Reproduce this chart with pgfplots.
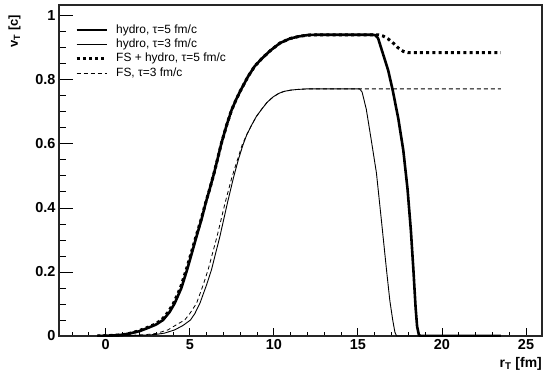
\documentclass[border=0pt]{standalone}
\usepackage{fontspec}
\setmainfont{Liberation Sans}
\usepackage{pgfplots}
\pgfplotsset{compat=1.18}
\begin{document}
\begin{tikzpicture}
\begin{axis}[
  name=ax,
  scale only axis,
  width=483bp, height=331bp,
  xmin=-2.78, xmax=25.95,
  ymin=0, ymax=1.034,
  xtick={0,5,10,15,20,25},
  ytick={0,0.2,0.4,0.6,0.8,1},
  minor xtick={-2,-1,...,25},
  minor ytick={0.05,0.1,0.15,0.25,0.3,0.35,0.45,0.5,0.55,0.65,0.7,0.75,0.85,0.9,0.95},
  tick pos=left,
  tick align=inside,
  xtick style={/pgfplots/major tick length=8bp,/pgfplots/minor tick length=4bp,line width=0.9bp,black},
  ytick style={/pgfplots/major tick length=14bp,/pgfplots/minor tick length=7bp,line width=0.9bp,black},
  axis line style={line width=1.3bp,black!85},
  /pgf/number format/assume math mode=true,
  ticklabel style={font=\bfseries\fontsize{14.5}{16}\selectfont},
  xlabel={r\textsubscript{T} [fm]},
  ylabel={v\textsubscript{T} [c]},
  xlabel style={at={(axis description cs:1,-0.0937)}, anchor=base east, font=\bfseries\fontsize{14}{16}\selectfont, inner sep=0pt},
  ylabel style={at={(axis description cs:-0.0849,0.970)}, anchor=base east, font=\bfseries\fontsize{13}{15}\selectfont, inner sep=0pt},
  legend cell align=left,
  legend style={draw=none, fill=none, at={(axis description cs:0,1)}, anchor=north west, xshift=16bp, yshift=-19bp,
    font=\fontsize{12}{14}\selectfont, inner sep=0pt, row sep=2.4bp, column sep=8bp,
    nodes={inner sep=0pt, text height=9bp, text depth=3bp}},
  legend image code/.code={\draw[#1] (0bp,0bp) -- (30bp,0bp);},
]
% hydro, tau=5
\addplot[black, line width=2.6bp, line join=round] coordinates {
(-0.5,0) (0,0.001) (0.5,0.002) (1.0,0.004) (1.43,0.008) (2.0,0.015) (2.5,0.025) (3.0,0.036)
(3.41,0.05) (3.8,0.075) (4.1,0.102) (4.5,0.150) (4.84,0.207) (5.1,0.255) (5.4,0.311) (5.7,0.365)
(5.95,0.416) (6.2,0.462) (6.45,0.510) (6.89,0.604) (7.2,0.660) (7.48,0.705) (7.75,0.738) (8.0,0.765)
(8.47,0.811) (8.85,0.842) (9.27,0.866) (9.8,0.892) (10.36,0.915) (10.95,0.929) (11.5,0.936)
(12.0,0.940) (12.5,0.941) (15.9,0.941) (16.05,0.939) (16.2,0.93) (16.5,0.88) (16.8,0.83)
(17.06,0.77) (17.4,0.68) (17.7,0.58) (17.95,0.46) (18.15,0.33) (18.3,0.207) (18.43,0.09)
(18.52,0.03) (18.62,0.005) (18.7,0) (23.5,0)
};
\addlegendentry{hydro, τ=5 fm/c}
% hydro, tau=3
\addplot[black, line width=0.9bp, line join=round] coordinates {
(-0.5,0) (0.5,0.0003) (1.5,0.001) (2.5,0.003) (3.0,0.005) (3.5,0.009) (4.1,0.019) (4.6,0.033)
(5.04,0.05) (5.3,0.07) (5.6,0.102) (6.0,0.160) (6.29,0.207) (6.79,0.311) (7.24,0.416) (7.6,0.495)
(7.9,0.553) (8.17,0.598) (8.4,0.630) (8.67,0.658) (8.95,0.685) (9.27,0.708) (9.6,0.730)
(9.96,0.747) (10.3,0.758) (10.6,0.764) (11.0,0.768) (11.35,0.770) (12.0,0.772) (15.1,0.772)
(15.25,0.762) (15.5,0.708) (15.8,0.61) (16.1,0.51) (16.4,0.36) (16.7,0.207) (16.9,0.11)
(17.07,0.05) (17.2,0.012) (17.3,0) (23.5,0)
};
\addlegendentry{hydro, τ=3 fm/c}
% FS + hydro, tau=5
\addplot[black, line width=3bp, dash pattern=on 3bp off 3.2bp] coordinates {
(-0.5,0) (0,0.001) (0.5,0.002) (1.0,0.004) (1.4,0.008) (1.9,0.015) (2.4,0.025) (2.9,0.036)
(3.32,0.05) (3.72,0.075) (4.03,0.102) (4.44,0.150) (4.79,0.207) (5.06,0.255) (5.37,0.311) (5.68,0.365)
(5.94,0.416) (6.2,0.462) (6.45,0.510) (6.89,0.604) (7.2,0.660) (7.48,0.705) (7.75,0.738) (8.0,0.765)
(8.47,0.811) (8.85,0.842) (9.27,0.866) (9.8,0.892) (10.36,0.915) (10.95,0.929) (11.5,0.936)
(12.0,0.940) (12.5,0.941) (16.2,0.941)
(16.5,0.937) (16.8,0.928) (17.1,0.915) (17.4,0.900) (17.7,0.889) (18.0,0.885) (23.5,0.885)
};
\addlegendentry{FS + hydro, τ=5 fm/c}
% FS, tau=3
\addplot[black, line width=0.8bp, dash pattern=on 4bp off 3bp] coordinates {
(-0.5,0) (0.5,0.0005) (1.5,0.002) (2.5,0.005) (3.0,0.008) (3.7,0.019) (4.2,0.035) (4.7,0.05)
(5.0,0.07) (5.4,0.102) (5.8,0.160) (6.09,0.207) (6.62,0.311) (7.1,0.416) (7.5,0.495)
(7.85,0.553) (8.12,0.598) (8.4,0.630) (8.67,0.658) (8.95,0.685) (9.27,0.708) (9.6,0.730)
(9.96,0.747) (10.3,0.758) (10.6,0.764) (11.0,0.768) (11.35,0.770) (12.0,0.772) (23.5,0.772)
};
\addlegendentry{FS, τ=3 fm/c}
\end{axis}
\pgfresetboundingbox
\path[use as bounding box] ([shift={(-59bp,-40bp)}]ax.south west) rectangle ([shift={(10bp,5bp)}]ax.north east);
\end{tikzpicture}
\end{document}
